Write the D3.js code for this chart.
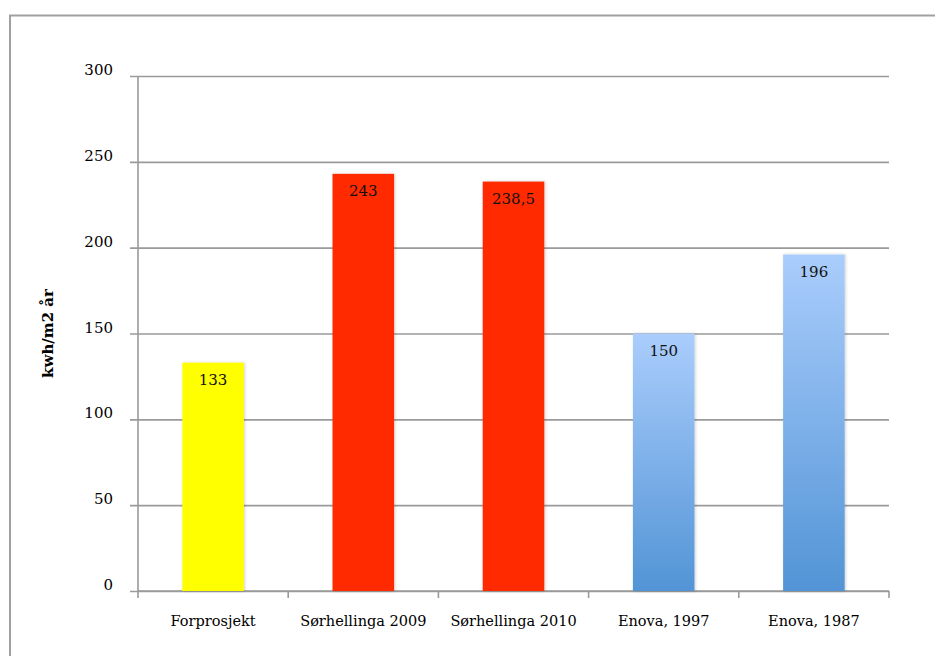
<!DOCTYPE html>
<html><head><meta charset="utf-8">
<script src="https://cdn.jsdelivr.net/npm/d3@7"></script>
<style>body{margin:0;background:#fff}svg{display:block}text{font-family:"DejaVu Serif","Liberation Serif",serif}</style>
</head><body>
<svg id="c" width="935" height="656"></svg>
<script>
const categories = ["Forprosjekt","Sørhellinga 2009","Sørhellinga 2010","Enova, 1997","Enova, 1987"];
const values = [133, 243, 238.5, 150, 196];
const valueLabels = ["133","243","238,5","150","196"];
const yTicks = [0,50,100,150,200,250,300];
const barKinds = ["yellow","red","red","blue","blue"];
const yTitle = "kwh/m2 år";

const svg = d3.select("#c");
const m = {l:138, r:889, t:76, b:591};
const x = d3.scaleBand().domain(categories).range([m.l, m.r]).paddingInner(0.59).paddingOuter(0.295);
const y = d3.scaleLinear().domain([0,300]).range([m.b, m.t]);

const defs = svg.append("defs");
const g = defs.append("linearGradient").attr("id","blueGrad").attr("x1",0).attr("y1",0).attr("x2",0).attr("y2",1);
g.append("stop").attr("offset","0%").attr("stop-color","#aacdfc");
g.append("stop").attr("offset","100%").attr("stop-color","#5294d6");
const f = defs.append("filter").attr("id","sh").attr("x","-20%").attr("y","-5%").attr("width","140%").attr("height","110%");
f.append("feDropShadow").attr("dx",1).attr("dy",0).attr("stdDeviation",1.5).attr("flood-color","#000").attr("flood-opacity",0.18);

// outer border
svg.append("rect").attr("x",10).attr("y",15.5).attr("width",940).attr("height",660)
  .attr("fill","none").attr("stroke","#a0a0a0").attr("stroke-width",2);

// grid
const yAxis = d3.axisLeft(y).tickValues(yTicks).tickSize(-(m.r - m.l)).tickPadding(25).tickFormat(d3.format("d"));
const ya = svg.append("g").attr("transform",`translate(${m.l},0)`).call(yAxis);
ya.select(".domain").remove();
ya.selectAll(".tick line").attr("x1",-8).attr("stroke","#9a9a9a").attr("stroke-width",1.6);
ya.selectAll(".tick text").attr("font-size",15).attr("fill","#000").attr("dy","-0.1em")
  .attr("font-family","'DejaVu Serif',serif");

// y axis line
svg.append("line").attr("x1",m.l).attr("x2",m.l).attr("y1",m.t).attr("y2",m.b).attr("stroke","#9a9a9a").attr("stroke-width",1.6);

// x axis
const xa = svg.append("g").attr("transform",`translate(0,${m.b})`)
  .call(d3.axisBottom(x).tickSize(0).tickPadding(25));
xa.select(".domain").attr("stroke","#9a9a9a").attr("stroke-width",1.6).attr("d",`M${m.l},0H${m.r}`);
xa.selectAll(".tick text").attr("font-size",14.5).attr("fill","#000").attr("font-family","'DejaVu Serif',serif");
const bounds = categories.map((c,i)=> i===0 ? x(c) - x.step()*x.paddingOuter() : x(c) - x.step()*x.paddingInner()/2);
bounds.push(m.r);
svg.append("g").selectAll("line").data(bounds).join("line")
  .attr("x1",d=>d).attr("x2",d=>d).attr("y1",m.b).attr("y2",m.b+7)
  .attr("stroke","#9a9a9a").attr("stroke-width",1.6);

// bars
const fills = {yellow:"#ffff00", red:"#ff2a00", blue:"url(#blueGrad)"};
svg.append("g").selectAll("rect").data(values).join("rect")
  .attr("x",(d,i)=>x(categories[i])).attr("width",x.bandwidth())
  .attr("y",d=>y(d)).attr("height",d=>y(0)-y(d))
  .attr("fill",(d,i)=>fills[barKinds[i]]).attr("filter","url(#sh)");

// value labels
svg.append("g").selectAll("text").data(values).join("text")
  .attr("x",(d,i)=>x(categories[i])+x.bandwidth()/2).attr("y",d=>y(d)+22)
  .attr("text-anchor","middle").attr("font-size",15).attr("fill","#111")
  .text((d,i)=>valueLabels[i]);

// y title
svg.append("text").attr("transform",`translate(53,${(m.t+m.b)/2}) rotate(-90)`)
  .attr("text-anchor","middle").attr("font-size",15).attr("font-weight","bold").text(yTitle);
</script>
</body></html>
